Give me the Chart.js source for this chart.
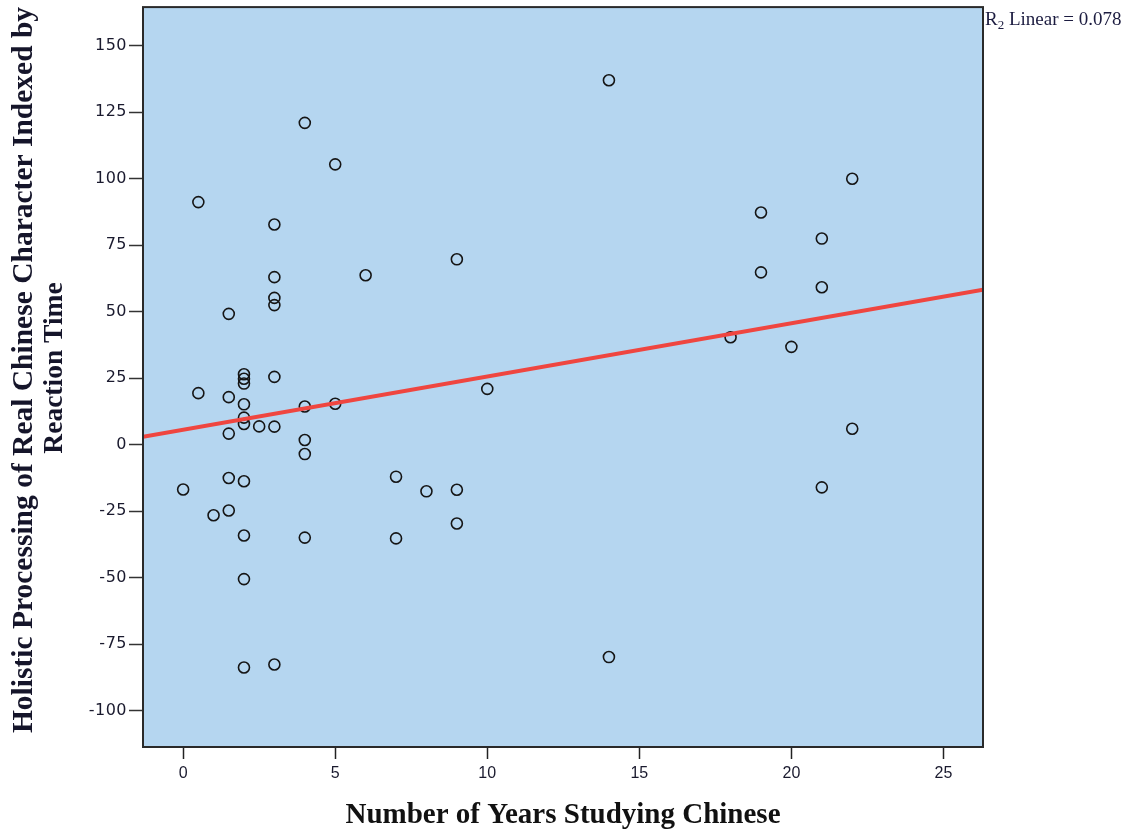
<!DOCTYPE html>
<html>
<head>
<meta charset="utf-8">
<script src="https://cdn.jsdelivr.net/npm/chart.js@4.4.1/dist/chart.umd.min.js"></script>
<style>
html,body{margin:0;padding:0;background:#fff;}
#wrap{width:1133px;height:834px;position:relative;}
</style>
</head>
<body>
<div id="wrap"><canvas id="c" width="1133" height="834"></canvas></div>
<script>
// ---- data ----
const yearsStudying = [0, 0.5, 0.5, 1, 1.5, 1.5, 1.5, 1.5, 1.5,
  2, 2, 2, 2, 2, 2, 2, 2, 2, 2,
  2.5, 3, 3, 3, 3, 3, 3, 3,
  4, 4, 4, 4, 4, 5, 5, 6, 7, 7, 8, 9, 9, 9, 10,
  14, 14, 18, 19, 19, 20, 21, 21, 21, 22, 22];
const holisticRT = [-16.8, 91.2, 19.4, -26.5, 49.2, 17.9, 4.2, -12.5, -24.7,
  26.5, 24.8, 23.0, 15.2, 10.2, 7.8, -13.7, -34.1, -50.5, -83.7,
  6.9, 82.8, 63.0, 55.2, 52.5, 25.5, 6.8, -82.6,
  121.0, 14.4, 1.8, -3.5, -34.9, 105.4, 15.4, 63.7, -12.0, -35.2, -17.5, 69.7, -16.9, -29.6, 21.0,
  137.0, -79.8, 40.4, 87.3, 64.8, 36.8, 77.5, 59.2, -16.0, 100.0, 6.0];
// fit line end points (read at the plot's left and right edges)
const fitX = [-1.32, 26.3];
const fitY = [3.0, 58.3];
const xTicks = [0, 5, 10, 15, 20, 25];
const yTicks = [-100, -75, -50, -25, 0, 25, 50, 75, 100, 125, 150];
const xRange = [-1.32, 26.3];
const yRange = [-113.6, 164.5];
const xTitle = 'Number of Years Studying Chinese';
const yTitle = ['Holistic Processing of Real Chinese Character Indexed by', 'Reaction Time'];
const fitLabelR = 'R';
const fitLabelSub = '2';
const fitLabelRest = ' Linear = 0.078';

const pointData = yearsStudying.map((x, i) => ({x: x, y: holisticRT[i]}));
const lineData = fitX.map((x, i) => ({x: x, y: fitY[i]}));

const decor = {
  id: 'decor',
  beforeDraw(chart) {
    const {ctx, chartArea: a} = chart;
    ctx.save();
    ctx.fillStyle = '#ffffff';
    ctx.fillRect(0, 0, chart.width, chart.height);
    ctx.fillStyle = '#b5d6f0';
    ctx.fillRect(a.left, a.top, a.right - a.left, a.bottom - a.top);
    ctx.restore();
    ctx.letterSpacing = '0.5px';
  },
  beforeDatasetsDraw(chart) {
    chart.ctx.letterSpacing = '0px';
  },
  afterDraw(chart) {
    const {ctx, chartArea: a} = chart;
    ctx.save();
    ctx.letterSpacing = '0px';
    ctx.strokeStyle = '#2a2a2a';
    ctx.lineWidth = 2;
    ctx.strokeRect(a.left, a.top, a.right - a.left, a.bottom - a.top);
    // y title
    ctx.fillStyle = '#15152a';
    ctx.textAlign = 'center';
    ctx.textBaseline = 'alphabetic';
    ctx.save();
    ctx.translate(0, 370);
    ctx.rotate(-Math.PI / 2);
    ctx.font = 'bold 29.5px "Liberation Serif", "Times New Roman", serif';
    ctx.fillText(yTitle[0], 0, 32);
    ctx.font = 'bold 27.5px "Liberation Serif", "Times New Roman", serif';
    ctx.fillText(yTitle[1], 2, 62);
    ctx.restore();
    // x title
    ctx.fillStyle = '#111111';
    ctx.font = 'bold 29px "Liberation Serif", "Times New Roman", serif';
    ctx.fillText(xTitle, (a.left + a.right) / 2, 823);
    // R2 label
    ctx.textAlign = 'left';
    ctx.fillStyle = '#1c1c40';
    ctx.font = '19px "Liberation Serif", "Times New Roman", serif';
    let x = a.right + 2;
    ctx.fillText(fitLabelR, x, 25);
    x += ctx.measureText(fitLabelR).width;
    ctx.font = '13px "Liberation Serif", "Times New Roman", serif';
    ctx.fillText(fitLabelSub, x, 29);
    x += ctx.measureText(fitLabelSub).width;
    ctx.font = '19px "Liberation Serif", "Times New Roman", serif';
    ctx.fillText(fitLabelRest, x, 25);
    ctx.restore();
  }
};

new Chart(document.getElementById('c'), {
  type: 'scatter',
  data: {
    datasets: [
      {
        type: 'line',
        label: 'fit',
        data: lineData,
        borderColor: '#ef4640',
        borderWidth: 4,
        pointRadius: 0,
        fill: false,
        order: 0
      },
      {
        label: 'points',
        data: pointData,
        pointStyle: 'circle',
        pointRadius: 5.5,
        pointBorderWidth: 1.6,
        borderColor: '#151515',
        backgroundColor: 'rgba(0,0,0,0)',
        order: 1
      }
    ]
  },
  options: {
    responsive: false,
    animation: false,
    devicePixelRatio: 1,
    layout: {padding: {left: 0, top: 5, right: 150, bottom: 0}},
    plugins: {legend: {display: false}, tooltip: {enabled: false}},
    scales: {
      x: {
        type: 'linear',
        min: xRange[0], max: xRange[1],
        afterBuildTicks: s => { s.ticks = xTicks.map(v => ({value: v})); },
        afterFit: s => { s.height = 87; s.paddingLeft = 0; s.paddingRight = 0; },
        grid: {drawOnChartArea: false, drawTicks: true, tickLength: 12, tickColor: '#222', tickWidth: 1.5},
        border: {display: false},
        ticks: {z: 1, padding: 5, color: '#1a1a2e',
          font: {family: '"Liberation Sans Narrow", "Arial Narrow", "Liberation Sans", sans-serif', size: 16}}
      },
      y: {
        type: 'linear',
        min: yRange[0], max: yRange[1],
        afterBuildTicks: s => { s.ticks = yTicks.map(v => ({value: v})); },
        afterFit: s => { s.width = 143; s.paddingTop = 0; s.paddingBottom = 0; },
        grid: {drawOnChartArea: false, drawTicks: true, tickLength: 14, tickColor: '#333', tickWidth: 1.5},
        border: {display: false},
        ticks: {padding: 2, color: '#1a1a2e',
          font: {family: '"DejaVu Sans", Verdana, sans-serif', size: 16}}
      }
    }
  },
  plugins: [decor]
});
</script>
</body>
</html>
